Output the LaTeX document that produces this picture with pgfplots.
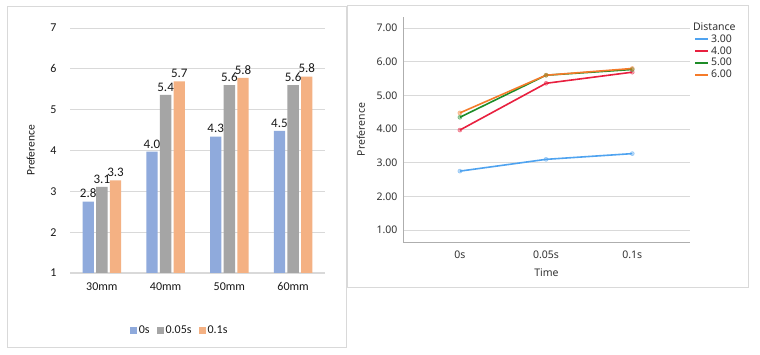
\documentclass[border=0pt]{standalone}
\usepackage{fontspec}
\setmainfont{Carlito}
\newfontfamily\segoe{Noto Sans}
\usepackage{pgfplots}
\pgfplotsset{compat=1.18}
\definecolor{bblue}{HTML}{8FAADC}
\definecolor{bgray}{HTML}{A5A5A5}
\definecolor{borange}{HTML}{F4B183}
\definecolor{lblue}{HTML}{4FA3F0}
\definecolor{lred}{HTML}{E8203F}
\definecolor{lgreen}{HTML}{1E8C28}
\definecolor{lorange}{HTML}{F57B2A}
\definecolor{gridc}{HTML}{D9D9D9}
\begin{document}
\begin{tikzpicture}[x=1pt,y=1pt]
\fill[white] (0,0) rectangle (760,355);
\draw[gridc,line width=0.8pt] (7,8) rectangle (346,349);
\draw[gridc,line width=0.8pt] (347,68) rectangle (748,350);
% ---------- left bar chart ----------
\begin{axis}[
  at={(70pt,82pt)}, anchor=south west, scale only axis,
  width=255pt, height=245pt,
  xmin=-0.5, xmax=3.5, ymin=1, ymax=7,
  ytick={1,2,3,4,5,6,7},
  xtick={0,1,2,3}, xticklabels={30mm,40mm,50mm,60mm},
  ybar=2.4pt, bar width=11.3pt,
  axis x line*=bottom, axis y line*=left,
  x axis line style={gridc, line width=1pt, -},
  y axis line style={draw=none},
  ymajorgrids, grid style={gridc, line width=0.8pt},
  major tick length=0pt,
  tick label style={font=\fontsize{12}{12}\selectfont, text=black!90},
  yticklabel style={xshift=-10pt},
  xticklabel style={yshift=-6pt},
  /pgf/number format/assume math mode=true,
  ylabel={Preference}, ylabel style={font=\fontsize{11.5}{12}\selectfont, text=black!90, at={(axis description cs:-0.125,0.5)}},
  nodes near coords,
  every node near coord/.append style={font=\fontsize{13}{13}\selectfont, text=black!90, /pgf/number format/.cd, fixed, fixed zerofill, precision=1},
  legend style={at={(0.43,-0.2)}, anchor=north, draw=none, fill=none, legend columns=3,
    font=\fontsize{12}{12}\selectfont, text=black!90, /tikz/every even column/.append style={column sep=5pt}},
  legend image code/.code={\fill[#1] (0pt,-3.5pt) rectangle (7pt,3.5pt);},
  clip=false,
]
\addplot[fill=bblue, draw=none] coordinates {(0,2.75) (1,3.97) (2,4.34) (3,4.48)};
\addplot[fill=bgray, draw=none] coordinates {(0,3.11) (1,5.36) (2,5.60) (3,5.60)};
\addplot[fill=borange, draw=none] coordinates {(0,3.27) (1,5.69) (2,5.78) (3,5.81)};
\legend{0s,0.05s,0.1s}
\end{axis}
% ---------- right line chart ----------
\begin{axis}[
  at={(403pt,113pt)}, anchor=south west, scale only axis,
  width=287pt, height=225pt,
  xmin=-0.66, xmax=2.67, ymin=0.644, ymax=7.33,
  ytick={1,2,3,4,5,6,7},
  xtick={0,1,2}, xticklabels={0s,0.05s,0.1s},
  axis x line*=bottom, axis y line*=left,
  axis line style={gridc!80!black, line width=0.8pt, -},
  ymajorgrids, grid style={gridc, line width=0.8pt},
  major tick length=0pt,
  tick label style={font=\segoe\fontsize{10.5}{11}\selectfont, text=black!80},
  yticklabel style={xshift=-2pt, /pgf/number format/.cd, fixed, fixed zerofill, precision=2},
  xticklabel style={yshift=-5pt},
  /pgf/number format/assume math mode=true,
  xlabel={Time}, xlabel style={font=\segoe\fontsize{10.5}{11}\selectfont, text=black!80, yshift=-4pt},
  ylabel={Preference}, ylabel style={font=\segoe\fontsize{10.5}{11}\selectfont, text=black!80, at={(axis description cs:-0.12,0.5)}},
  legend style={at={(1.01,0.99)}, anchor=north west, draw=none, fill=none,
    font=\segoe\fontsize{10.5}{11}\selectfont, text=black!80, row sep=-1.2pt, inner sep=1pt},
  legend cell align=left,
  legend image code/.code={\draw[#1, line width=2pt] (0pt,0pt) -- (13pt,0pt);},
  every axis plot/.append style={line width=1.6pt, mark=*, mark size=2pt, mark options={fill opacity=0.35, draw opacity=0.5, line width=0.6pt}},
  clip=false,
]
\addlegendimage{empty legend}
\addlegendentry{\hspace{-18pt}Distance}
\addplot[lblue] coordinates {(0,2.75) (1,3.10) (2,3.27)};
\addlegendentry{3.00}
\addplot[lred] coordinates {(0,3.97) (1,5.36) (2,5.69)};
\addlegendentry{4.00}
\addplot[lgreen] coordinates {(0,4.35) (1,5.60) (2,5.77)};
\addlegendentry{5.00}
\addplot[lorange] coordinates {(0,4.48) (1,5.60) (2,5.80)};
\addlegendentry{6.00}
\end{axis}
\end{tikzpicture}
\end{document}
